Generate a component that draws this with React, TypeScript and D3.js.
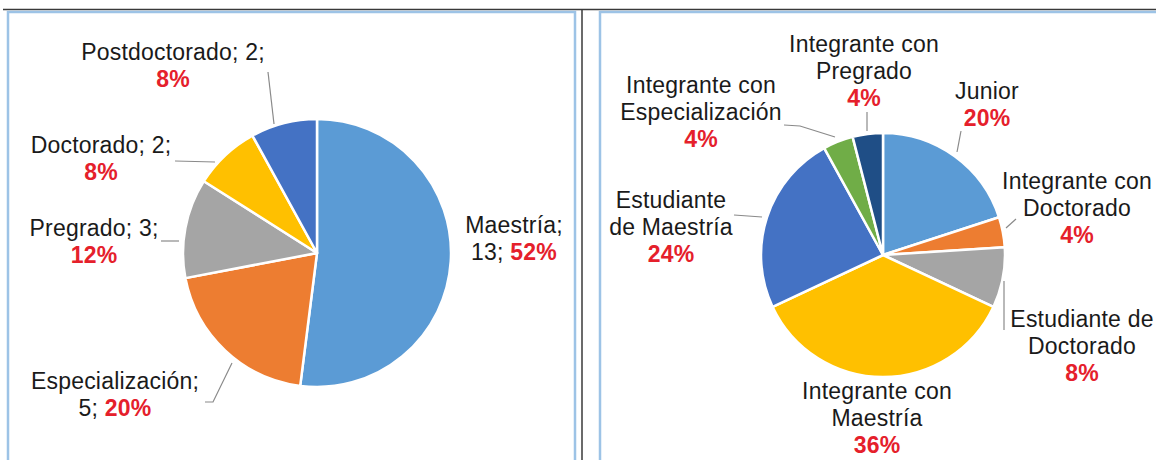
import React from "react";
import * as d3 from "d3";

// ---------- DATA ----------
const leftCategories = ["Maestría", "Especialización", "Pregrado", "Doctorado", "Postdoctorado"];
const leftValues = [13, 5, 3, 2, 2];

const rightCategories = [
  "Junior",
  "Integrante con Doctorado",
  "Estudiante de Doctorado",
  "Integrante con Maestría",
  "Estudiante de Maestría",
  "Integrante con Especialización",
  "Integrante con Pregrado",
];
const rightValues = [20, 4, 8, 36, 24, 4, 4];
const rightLabelLines = [
  ["Junior"],
  ["Integrante con", "Doctorado"],
  ["Estudiante de", "Doctorado"],
  ["Integrante con", "Maestría"],
  ["Estudiante", "de Maestría"],
  ["Integrante con", "Especialización"],
  ["Integrante con", "Pregrado"],
];

// ---------- STYLE / LAYOUT ----------
const W = 1156;
const H = 460;
const FONT = "'Liberation Sans', Arial, Helvetica, sans-serif";
const FS = 23;
const LS = 0.2;
const LH = 27;
const RED = "#E5202B";
const TXT = "#1a1a1a";
const LEADER = "#8a8a8a";

const leftColors = ["#5B9BD5", "#ED7D31", "#A5A5A5", "#FFC000", "#4472C4"];
const rightColors = ["#5B9BD5", "#ED7D31", "#A5A5A5", "#FFC000", "#4472C4", "#70AD47", "#1F4E86"];

const leftPie = { cx: 317, cy: 253, r: 134 };
const rightPie = { cx: 883, cy: 255, r: 122 };

// label anchor: centre x, first baseline y; breakAfterName for the left chart
const leftLabelPos = [
  { x: 514, y: 233, breakAfterName: true },
  { x: 115, y: 389, breakAfterName: true },
  { x: 94, y: 236, breakAfterName: false },
  { x: 101, y: 153, breakAfterName: false },
  { x: 173, y: 60, breakAfterName: false },
];
const leftLeaders: [number, number][][] = [
  [],
  [[205, 402], [213, 402], [232, 363]],
  [[161, 241], [179, 241]],
  [[175, 161], [215, 162]],
  [[268, 72], [274, 124]],
];

const rightLabelPos = [
  { x: 987, y: 99 },
  { x: 1077, y: 189 },
  { x: 1082, y: 327 },
  { x: 877, y: 399 },
  { x: 671, y: 208 },
  { x: 701, y: 93 },
  { x: 864, y: 52 },
];
const rightLeaders: [number, number][][] = [
  [[961, 131], [957, 152]],
  [[1016, 219], [1006, 228]],
  [[1004, 281], [1004, 330]],
  [],
  [[734, 215], [762, 217]],
  [[784, 125], [800, 126], [835, 137]],
  [[867, 112], [867, 131]],
];

function pct(values: number[], i: number) {
  const total = d3.sum(values);
  return Math.round((values[i] / total) * 100) + "%";
}

function PieSlices({ values, colors, geom }: { values: number[]; colors: string[]; geom: { cx: number; cy: number; r: number } }) {
  const arcs = d3.pie<number>().sort(null).value((d) => d).startAngle(0).endAngle(2 * Math.PI)(values);
  const arc = d3.arc<d3.PieArcDatum<number>>().innerRadius(0).outerRadius(geom.r);
  return (
    <g transform={`translate(${geom.cx},${geom.cy})`}>
      {arcs.map((a, i) => (
        <path key={i} d={arc(a) || ""} fill={colors[i]} stroke="#ffffff" strokeWidth={2.5} strokeLinejoin="round" />
      ))}
    </g>
  );
}

function Leaders({ lines }: { lines: [number, number][][] }) {
  const line = d3.line();
  return (
    <g>
      {lines.map((pts, i) =>
        pts.length ? <path key={i} d={line(pts) || ""} fill="none" stroke={LEADER} strokeWidth={1.2} /> : null
      )}
    </g>
  );
}

export default function App() {
  return (
    <svg
      width={W}
      height={H}
      viewBox={`0 0 ${W} ${H}`}
      style={{ position: "absolute", left: 0, top: 0, background: "#ffffff" }}
    >
      <rect x={0} y={0} width={W} height={H} fill="#ffffff" />
      {/* frames */}
      <line x1={3} y1={9.5} x2={W} y2={9.5} stroke="#3a3a3a" strokeWidth={1.5} />
      <line x1={582} y1={9.5} x2={582} y2={H} stroke="#3a3a3a" strokeWidth={1.5} />
      <path d={`M8,${H} V12 H575 V${H}`} fill="none" stroke="#9DC3E6" strokeWidth={2.5} />
      <path d={`M600,${H} V12 H${W}`} fill="none" stroke="#9DC3E6" strokeWidth={2.5} />

      {/* left pie */}
      <PieSlices values={leftValues} colors={leftColors} geom={leftPie} />
      <Leaders lines={leftLeaders} />
      <g fontFamily={FONT} fontSize={FS} letterSpacing={LS} textAnchor="middle" fill={TXT}>
        {leftCategories.map((name, i) => {
          const p = leftLabelPos[i];
          const v = leftValues[i];
          return p.breakAfterName ? (
            <text key={i} x={p.x} y={p.y}>
              <tspan x={p.x} y={p.y}>{`${name};`}</tspan>
              <tspan x={p.x} y={p.y + LH}>
                {`${v}; `}
                <tspan fill={RED} fontWeight="bold">{pct(leftValues, i)}</tspan>
              </tspan>
            </text>
          ) : (
            <text key={i} x={p.x} y={p.y}>
              <tspan x={p.x} y={p.y}>{`${name}; ${v};`}</tspan>
              <tspan x={p.x} y={p.y + LH} fill={RED} fontWeight="bold">{pct(leftValues, i)}</tspan>
            </text>
          );
        })}
      </g>

      {/* right pie */}
      <PieSlices values={rightValues} colors={rightColors} geom={rightPie} />
      <Leaders lines={rightLeaders} />
      <g fontFamily={FONT} fontSize={FS} letterSpacing={LS} textAnchor="middle" fill={TXT}>
        {rightCategories.map((name, i) => {
          const p = rightLabelPos[i];
          const lines = rightLabelLines[i];
          return (
            <text key={i} x={p.x} y={p.y} aria-label={name}>
              {lines.map((l, j) => (
                <tspan key={j} x={p.x} y={p.y + j * LH}>{l}</tspan>
              ))}
              <tspan x={p.x} y={p.y + lines.length * LH} fill={RED} fontWeight="bold">{pct(rightValues, i)}</tspan>
            </text>
          );
        })}
      </g>
    </svg>
  );
}
